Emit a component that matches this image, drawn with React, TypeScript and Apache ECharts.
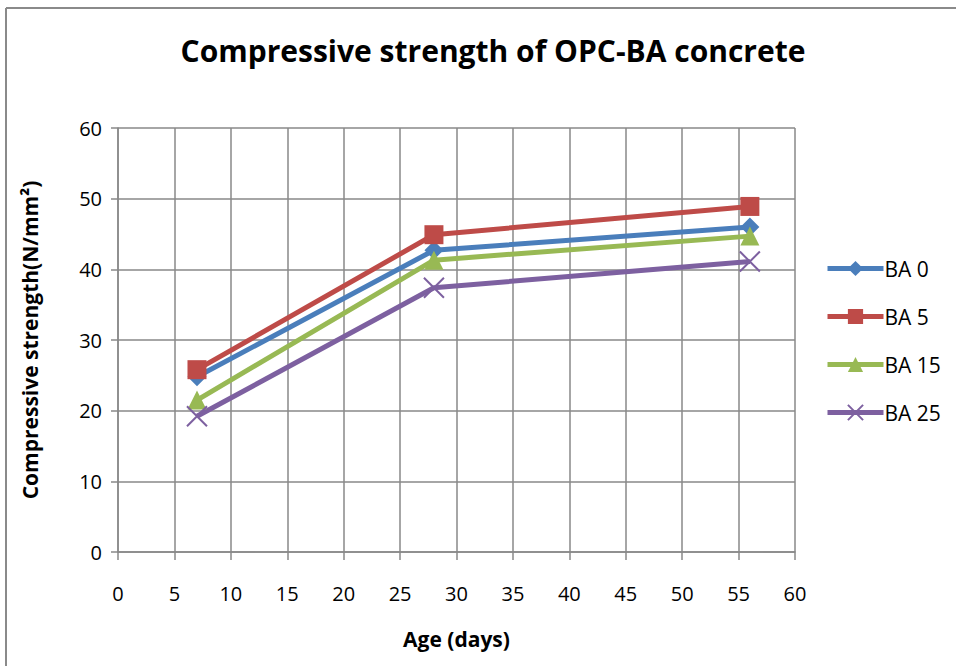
import React, { useEffect, useRef } from "react";
import * as echarts from "echarts";

// Age of the specimens at test (days)
const ages = [7, 28, 56];
// Compressive strength (N/mm²) for each bottom-ash replacement level
const ba0 = [24.8, 42.7, 46.0];
const ba5 = [25.8, 44.9, 48.9];
const ba15 = [21.5, 41.3, 44.7];
const ba25 = [19.2, 37.4, 41.1];

const seriesNames = ["BA 0", "BA 5", "BA 15", "BA 25"];
const seriesValues = [ba0, ba5, ba15, ba25];
const seriesColors = ["#4A7EBB", "#BE4B48", "#98B954", "#7D60A0"];
const seriesSymbols = [
  "diamond",
  "rect",
  "triangle",
  "path://M0,0L10,10M10,0L0,10",
];
const seriesSymbolSizes = [19, 19, 19, 20];

const FONT = "'Open Sans', 'Noto Sans', sans-serif";

export default function App() {
  const ref = useRef<HTMLDivElement>(null);

  useEffect(() => {
    if (!ref.current) return;
    const chart = echarts.init(ref.current, undefined, { renderer: "svg" });

    const series = seriesNames.map((name, i) => {
      const isCross = i === 3;
      return {
        name,
        type: "line",
        data: ages.map((a, j) => [a, seriesValues[i][j]]),
        symbol: seriesSymbols[i],
        symbolSize: seriesSymbolSizes[i],
        showAllSymbol: true,
        lineStyle: { color: seriesColors[i], width: 5 },
        itemStyle: {
          color: seriesColors[i],
          borderColor: seriesColors[i],
          borderWidth: isCross ? 2 : 0,
        },
        emphasis: { disabled: true },
      };
    });

    const frame = { stroke: "#8a8a8a", lineWidth: 2 };

    chart.setOption({
      animation: false,
      backgroundColor: "#ffffff",
      title: {
        text: "Compressive strength of OPC-BA concrete",
        left: 488,
        top: 30,
        textAlign: "center",
        textStyle: {
          fontFamily: FONT,
          fontWeight: "bold",
          fontSize: 30,
          color: "#000",
        },
      },
      legend: {
        orient: "vertical",
        left: 820,
        top: 253,
        itemGap: 27,
        itemWidth: 56,
        itemHeight: 19,
        lineStyle: { width: 5 },
        textStyle: { fontFamily: FONT, fontSize: 21, color: "#000", padding: [0, 0, 0, -4] },
        data: seriesNames,
      },
      grid: { left: 118, right: 161, top: 128, bottom: 114 },
      xAxis: {
        type: "value",
        min: 0,
        max: 60,
        interval: 5,
        name: "Age (days)",
        nameLocation: "middle",
        nameGap: 76,
        nameTextStyle: { fontFamily: FONT, fontWeight: "bold", fontSize: 21, color: "#000" },
        axisLine: { show: true, lineStyle: { color: "#888", width: 1.5 } },
        axisTick: { show: true, inside: false, length: 8, lineStyle: { color: "#888", width: 1.5 } },
        axisLabel: { fontFamily: FONT, fontSize: 20, color: "#000", margin: 31 },
        splitLine: { show: true, lineStyle: { color: "#888", width: 1.5 } },
      },
      yAxis: {
        type: "value",
        min: 0,
        max: 60,
        interval: 10,
        name: "Compressive strength(N/mm²)",
        nameLocation: "middle",
        nameGap: 78,
        nameTextStyle: { fontFamily: FONT, fontWeight: "bold", fontSize: 21, color: "#000" },
        axisLine: { show: true, lineStyle: { color: "#888", width: 1.5 } },
        axisTick: { show: true, inside: false, length: 7, lineStyle: { color: "#888", width: 1.5 } },
        axisLabel: { fontFamily: FONT, fontSize: 20, color: "#000", margin: 16 },
        splitLine: { show: true, lineStyle: { color: "#888", width: 1.5 } },
      },
      graphic: [
        {
          type: "line",
          shape: { x1: 6, y1: 8, x2: 956, y2: 8 },
          style: frame,
          silent: true,
          z: 10,
        },
        {
          type: "line",
          shape: { x1: 6, y1: 8, x2: 6, y2: 666 },
          style: frame,
          silent: true,
          z: 10,
        },
      ],
      series,
    });

    return () => chart.dispose();
  }, []);

  return (
    <div
      ref={ref}
      style={{ position: "absolute", left: 0, top: 0, width: 956, height: 666 }}
    />
  );
}
